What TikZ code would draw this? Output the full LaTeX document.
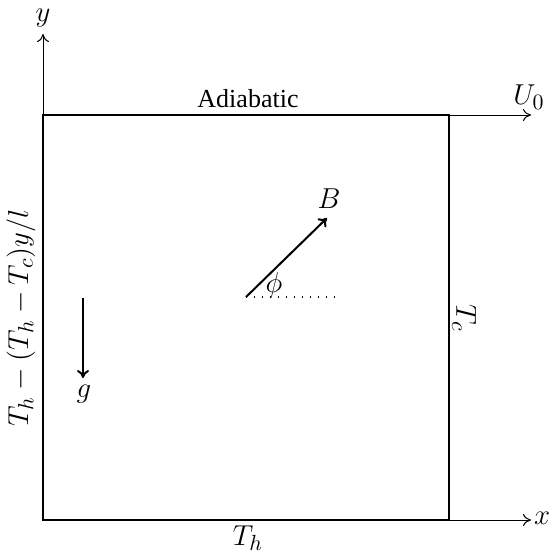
\documentclass[tikz,border=0pt]{standalone}
\usepackage{fontspec}
\setmainfont{Liberation Serif}
\usetikzlibrary{arrows.meta}
\begin{document}
\begin{tikzpicture}[x=0.5pt,y=-0.5pt,
  thick line/.style={line width=1pt},
  thin line/.style={line width=0.5pt},
  tip/.style={-{To[length=4pt,width=6pt]}},
  lab/.style={inner sep=0pt,font=\fontsize{13}{15}\selectfont},
  mlab/.style={inner sep=0pt,font=\fontsize{15}{17}\selectfont}]
\useasboundingbox (0,0) rectangle (555,553);
% corners and axis ends
\coordinate (O) at (43,520);
\coordinate (TL) at (43,115);
\coordinate (TR) at (449,115);
\coordinate (BR) at (449,520);
\coordinate (yend) at (43,34);
\coordinate (xend) at (531,520);
\coordinate (uend) at (531,115);
\coordinate (Bs) at (246,297);
\coordinate (Be) at (327,218);
\coordinate (Dend) at (337,297);
\coordinate (gs) at (83,298);
\coordinate (ge) at (83,378);
% box
\draw[thick line] (O) -- (TL) -- (TR) -- (BR) -- cycle;
% axes
\draw[thin line,tip] (TL) -- (yend);
\draw[thin line,tip] (BR) -- (xend);
\draw[thin line,tip] (TR) -- (uend);
% vectors
\draw[thick line,tip] (Bs) -- (Be);
\draw[line width=0.6pt,dash pattern=on 0.6pt off 3.4pt] (Bs) -- (Dend);
\draw[thick line,tip] (gs) -- (ge);
% labels
\node[mlab] (ylab) at (43,18) {$y$};
\node[mlab] (xlab) at (542,518) {$x$};
\node[mlab] (ulab) at (529,97) {$U_0$};
\node[lab] (adia) at (248,99) {Adiabatic};
\node[mlab] (th) at (248,538) {$T_h$};
\node[mlab,rotate=-90] (tc) at (464,318) {$T_c$};
\node[mlab,rotate=90] (left) at (21,318) {$T_h-(T_h-T_c)y/l$};
\node[mlab] (blab) at (329,199) {$B$};
\node[mlab] (phi) at (274,285) {$\phi$};
\node[mlab] (glab) at (84,394) {$g$};
\end{tikzpicture}
\end{document}
